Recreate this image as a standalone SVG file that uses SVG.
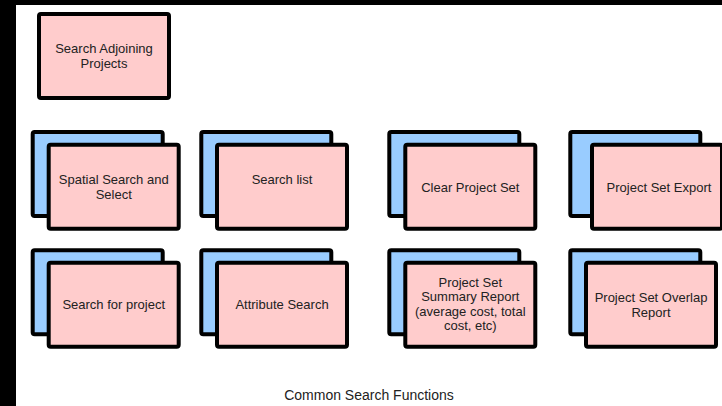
<svg xmlns="http://www.w3.org/2000/svg" width="722" height="406" viewBox="0 0 722 406">
<style>
.b{fill:#99ccff;stroke:#000;stroke-width:4}
.p{fill:#ffcccc;stroke:#000;stroke-width:4}
text{font-family:"Liberation Sans",Arial,sans-serif;font-size:13px;fill:#222;text-anchor:middle}
.t{font-size:14px}
</style>
<rect x="0" y="0" width="722" height="406" fill="#fff"/>
<rect x="0" y="0" width="16" height="406" fill="#000"/>
<rect x="0" y="0" width="722" height="5" fill="#000"/>
<g id="connectors"></g>
<g id="n0"><rect class="p" x="39" y="14" width="130" height="84" rx="2"/><text x="104" y="53">Search Adjoining</text><text x="104" y="68">Projects</text></g>
<g id="n1"><rect class="b" x="32.7" y="132" width="130" height="84" rx="2"/><rect class="p" x="48.7" y="144.7" width="130" height="84" rx="2"/><text x="113.7" y="184">Spatial Search and</text><text x="113.7" y="199">Select</text></g>
<g id="n2"><rect class="b" x="201.3" y="132" width="130" height="84" rx="2"/><rect class="p" x="217" y="144.7" width="130" height="84" rx="2"/><text x="282" y="184">Search list</text></g>
<g id="n3"><rect class="b" x="389.3" y="132" width="130" height="84" rx="2"/><rect class="p" x="405.3" y="144.7" width="130" height="84" rx="2"/><text x="470.3" y="191.5">Clear Project Set</text></g>
<g id="n4"><rect class="b" x="570.3" y="132" width="130" height="84" rx="2"/><rect class="p" x="592" y="144.7" width="130" height="84" rx="2"/><text x="659" y="191.5">Project Set Export</text></g>
<g id="n5"><rect class="b" x="32.7" y="250.3" width="130" height="84" rx="2"/><rect class="p" x="48.7" y="262.7" width="130" height="84" rx="2"/><text x="113.7" y="309">Search for project</text></g>
<g id="n6"><rect class="b" x="201.3" y="250.3" width="130" height="84" rx="2"/><rect class="p" x="217" y="262.7" width="130" height="84" rx="2"/><text x="282" y="309">Attribute Search</text></g>
<g id="n7"><rect class="b" x="389.3" y="250.3" width="130" height="84" rx="2"/><rect class="p" x="405.3" y="262.7" width="130" height="84" rx="2"/><text x="470.3" y="287">Project Set</text><text x="470.3" y="301.3">Summary Report</text><text x="470.3" y="315.6">(average cost, total</text><text x="470.3" y="329.9">cost, etc)</text></g>
<g id="n8"><rect class="b" x="570.3" y="250.3" width="130" height="84" rx="2"/><rect class="p" x="586" y="262.7" width="130" height="84" rx="2"/><text x="651" y="302">Project Set Overlap</text><text x="651" y="317">Report</text></g>
<text class="t" x="369" y="400">Common Search Functions</text>
</svg>
